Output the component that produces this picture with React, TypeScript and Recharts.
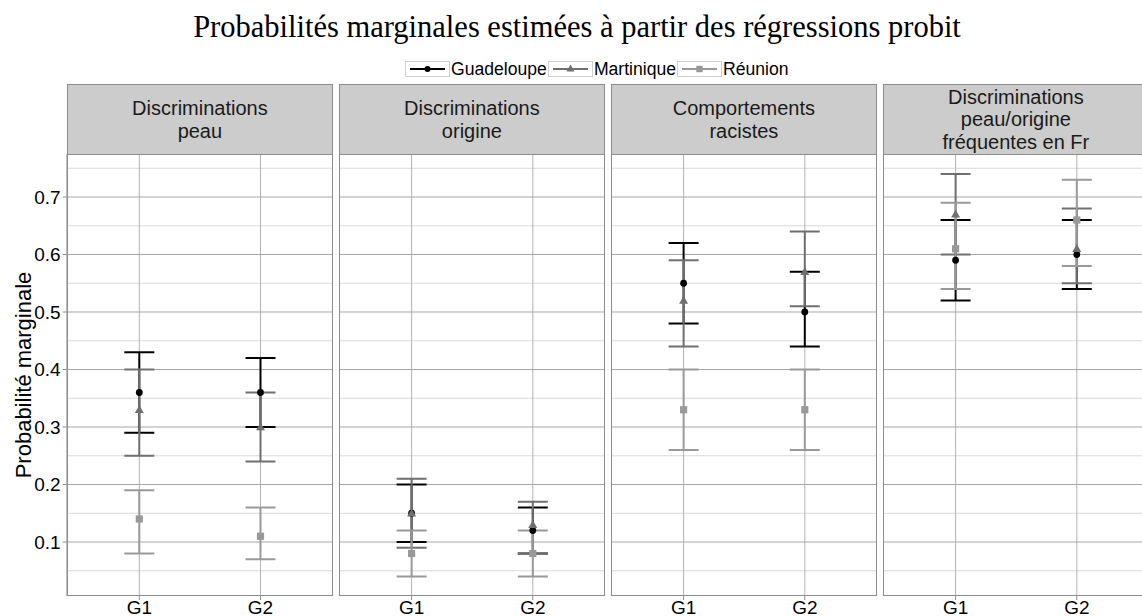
import { ComposedChart, Line, ErrorBar, XAxis, YAxis, CartesianGrid } from "recharts";

// categories and facet labels
const groups = ["G1", "G2"];
const panelTitles = [
  ["Discriminations", "peau"],
  ["Discriminations", "origine"],
  ["Comportements", "racistes"],
  ["Discriminations", "peau/origine", "fréquentes en Fr"],
];

// one inner array per facet, values for [G1, G2]
const guadeloupeMean = [[0.36, 0.36], [0.15, 0.12], [0.55, 0.5], [0.59, 0.6]];
const guadeloupeLow = [[0.29, 0.3], [0.1, 0.08], [0.48, 0.44], [0.52, 0.54]];
const guadeloupeHigh = [[0.43, 0.42], [0.2, 0.16], [0.62, 0.57], [0.66, 0.66]];

const martiniqueMean = [[0.33, 0.3], [0.15, 0.13], [0.52, 0.57], [0.67, 0.61]];
const martiniqueLow = [[0.25, 0.24], [0.09, 0.08], [0.44, 0.51], [0.6, 0.55]];
const martiniqueHigh = [[0.4, 0.36], [0.21, 0.17], [0.59, 0.64], [0.74, 0.68]];

const reunionMean = [[0.14, 0.11], [0.08, 0.08], [0.33, 0.33], [0.61, 0.66]];
const reunionLow = [[0.08, 0.07], [0.04, 0.04], [0.26, 0.26], [0.54, 0.58]];
const reunionHigh = [[0.19, 0.16], [0.12, 0.12], [0.4, 0.4], [0.69, 0.73]];

const majorTicks = [0.1, 0.2, 0.3, 0.4, 0.5, 0.6, 0.7];
const minorTicks = [0.05, 0.15, 0.25, 0.35, 0.45, 0.55, 0.65, 0.75];

const GUA = "#000000";
const MAR = "#6f6f6f";
const REU = "#999999";

const Y_DOMAIN = [0.0061, 0.7748];
const PANEL_W = 266.4;
const GAP = 5.6;
const LEFT0 = 66.7;
const STRIP_TOP = 84.3;
const PLOT_TOP = 154;
const PLOT_H = 442;
const BORDER = "#8c8c8c";

function rowsFor(p: number) {
  return groups.map((g, i) => ({
    group: g,
    gua: guadeloupeMean[p][i],
    guaErr: [guadeloupeMean[p][i] - guadeloupeLow[p][i], guadeloupeHigh[p][i] - guadeloupeMean[p][i]],
    mar: martiniqueMean[p][i],
    marErr: [martiniqueMean[p][i] - martiniqueLow[p][i], martiniqueHigh[p][i] - martiniqueMean[p][i]],
    reu: reunionMean[p][i],
    reuErr: [reunionMean[p][i] - reunionLow[p][i], reunionHigh[p][i] - reunionMean[p][i]],
  }));
}

const circleDot = (props: any) => (
  <circle key={`c-${props.index}`} cx={props.cx} cy={props.cy} r={3.4} fill={GUA} />
);
const triangleDot = (props: any) => (
  <path
    key={`t-${props.index}`}
    d={`M${props.cx},${props.cy - 4.5}L${props.cx + 4.5},${props.cy + 3.2}L${props.cx - 4.5},${props.cy + 3.2}Z`}
    fill={MAR}
  />
);
const squareDot = (props: any) => (
  <rect key={`s-${props.index}`} x={props.cx - 3.6} y={props.cy - 3.6} width={7.2} height={7.2} fill={REU} />
);

function Panel({ p }: { p: number }) {
  const first = p === 0;
  const yW = first ? LEFT0 : 0;
  const panelLeft = LEFT0 + p * (PANEL_W + GAP);
  const data = rowsFor(p);
  return (
    <>
      <div
        style={{
          position: "absolute",
          left: panelLeft,
          top: STRIP_TOP,
          width: PANEL_W,
          height: PLOT_TOP - STRIP_TOP + 1,
          boxSizing: "border-box",
          background: "#cccccc",
          border: `1px solid ${BORDER}`,
          display: "flex",
          flexDirection: "column",
          justifyContent: "center",
          alignItems: "center",
          fontSize: 20,
          lineHeight: "22.5px",
          color: "#1a1a1a",
          textAlign: "center",
        }}
      >
        {panelTitles[p].map((t) => (
          <div key={t}>{t}</div>
        ))}
      </div>
      <div style={{ position: "absolute", left: panelLeft - yW, top: PLOT_TOP }}>
        <ComposedChart
          width={PANEL_W + yW}
          height={PLOT_H + 40}
          data={data}
          margin={{ top: 0, right: 0, bottom: 0, left: 0 }}
        >
          <CartesianGrid vertical={false} horizontalValues={minorTicks} stroke="#d9d9d9" strokeWidth={1} />
          <CartesianGrid horizontal={false} stroke="#b3b3b3" strokeWidth={1} />
          <CartesianGrid vertical={false} horizontalValues={majorTicks} stroke="#a6a6a6" strokeWidth={1} />
          <XAxis
            dataKey="group"
            type="category"
            scale="point"
            padding={{ left: 72.6, right: 72.6 }}
            height={40}
            interval={0}
            axisLine={false}
            tickSize={4}
            tickMargin={1}
            tickLine={{ stroke: BORDER }}
            tick={{ fill: "#000", fontSize: 19 }}
          />
          <YAxis
            type="number"
            hide={!first}
            width={yW}
            domain={Y_DOMAIN}
            allowDataOverflow
            ticks={majorTicks}
            tickFormatter={(v: number) => v.toFixed(1)}
            axisLine={false}
            tickSize={4}
            tickMargin={2}
            tickLine={{ stroke: BORDER }}
            tick={{ fill: "#000", fontSize: 19 }}
          />
          <Line dataKey="gua" stroke="none" dot={false} activeDot={false} isAnimationActive={false}>
            <ErrorBar dataKey="guaErr" direction="y" width={15} stroke={GUA} strokeWidth={2} />
          </Line>
          <Line dataKey="mar" stroke="none" dot={false} activeDot={false} isAnimationActive={false}>
            <ErrorBar dataKey="marErr" direction="y" width={15} stroke={MAR} strokeWidth={2} />
          </Line>
          <Line dataKey="reu" stroke="none" dot={false} activeDot={false} isAnimationActive={false}>
            <ErrorBar dataKey="reuErr" direction="y" width={15} stroke={REU} strokeWidth={2} />
          </Line>
          <Line dataKey="gua" stroke="none" dot={circleDot} activeDot={false} isAnimationActive={false} />
          <Line dataKey="mar" stroke="none" dot={triangleDot} activeDot={false} isAnimationActive={false} />
          <Line dataKey="reu" stroke="none" dot={squareDot} activeDot={false} isAnimationActive={false} />
        </ComposedChart>
      </div>
      <div
        style={{
          position: "absolute",
          left: panelLeft,
          top: PLOT_TOP,
          width: PANEL_W,
          height: PLOT_H,
          boxSizing: "border-box",
          border: `1px solid ${BORDER}`,
          pointerEvents: "none",
        }}
      />
    </>
  );
}

const legendItems = [
  { label: "Guadeloupe", color: GUA, shape: "circle" },
  { label: "Martinique", color: MAR, shape: "triangle" },
  { label: "Réunion", color: REU, shape: "square" },
];

function LegendKey({ color, shape }: { color: string; shape: string }) {
  return (
    <svg width={45} height={16} style={{ display: "block" }}>
      <rect x={0.5} y={0.5} width={44} height={15} fill="#fff" stroke="#cfcfcf" />
      <line x1={5} x2={40} y1={8} y2={8} stroke={color} strokeWidth={2} />
      {shape === "circle" && <circle cx={22.5} cy={8} r={3} fill={color} />}
      {shape === "triangle" && <path d="M22.5,3.5L26.5,10.5L18.5,10.5Z" fill={color} />}
      {shape === "square" && <rect x={19.3} y={4.8} width={6.4} height={6.4} fill={color} />}
    </svg>
  );
}

export default function App() {
  return (
    <div
      style={{
        position: "fixed",
        left: 0,
        top: 0,
        width: 1142,
        height: 616,
        overflow: "hidden",
        background: "#fff",
        fontFamily: "'Liberation Sans', Arial, sans-serif",
      }}
    >
      <svg width={1155} height={616} style={{ position: "absolute", left: 0, top: 0 }}>
        <text
          x={577}
          y={37}
          textAnchor="middle"
          fontFamily="'Liberation Serif', serif"
          fontSize={30.5}
          fill="#000"
        >
          Probabilités marginales estimées à partir des régressions probit
        </text>
        <text
          x={31}
          y={375}
          transform="rotate(-90 31 375)"
          textAnchor="middle"
          fontSize={22}
          fill="#000"
        >
          Probabilité marginale
        </text>
      </svg>
      <div
        style={{
          position: "absolute",
          left: 405,
          top: 60,
          display: "flex",
          alignItems: "center",
          fontSize: 17.6,
          lineHeight: "18px",
          color: "#000",
        }}
      >
        {legendItems.map((it) => (
          <div key={it.label} style={{ display: "flex", alignItems: "center" }}>
            <LegendKey color={it.color} shape={it.shape} />
            <span style={{ margin: "0 1px 0 1px" }}>{it.label}</span>
          </div>
        ))}
      </div>
      {panelTitles.map((_, p) => (
        <Panel key={p} p={p} />
      ))}
    </div>
  );
}
